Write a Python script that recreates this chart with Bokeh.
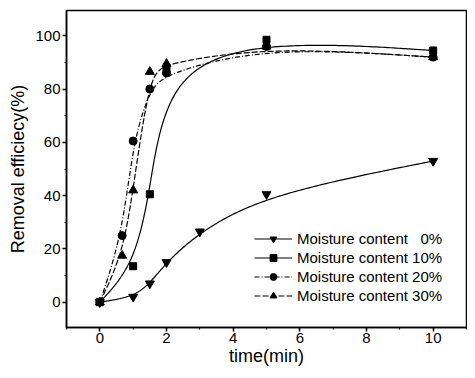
import numpy as np
from bokeh.plotting import figure
from bokeh.models import Legend, LegendItem, FixedTicker, Range1d
from bokeh.embed import file_html
from bokeh.resources import INLINE

# ---- data ----
t_0 = [0, 1, 1.5, 2, 3, 5, 10]
r_0 = [0, 2, 7, 15, 26.5, 40.5, 53]

t_10 = [0, 1, 1.5, 2, 5, 10]
r_10 = [0, 13.5, 40.5, 87, 98.5, 94.5]

t_20 = [0, 0.67, 1, 1.5, 2, 5, 10]
r_20 = [0, 25, 60.5, 80, 86, 96, 92]

t_30 = [0, 0.67, 1, 1.5, 2, 5, 10]
r_30 = [0, 17.5, 42, 86.5, 89.5, 96, 92]

labels = ["Moisture content\u00a0\u00a0\u00a00%", "Moisture content 10%",
          "Moisture content 20%", "Moisture content 30%"]
x_ticks = [0, 2, 4, 6, 8, 10]
y_ticks = [0, 20, 40, 60, 80, 100]
x_title = "time(min)"
y_title = "Removal efficiecy(%)"


def bspline(xs, ys, n=40):
    """Clamped uniform cubic B-spline using the data points as control points."""
    P = np.column_stack([xs, ys]).astype(float)
    P = np.vstack([P[0], P[0], P, P[-1], P[-1]])
    t = np.linspace(0, 1, n)
    b0 = (1 - t) ** 3 / 6
    b1 = (3 * t ** 3 - 6 * t ** 2 + 4) / 6
    b2 = (-3 * t ** 3 + 3 * t ** 2 + 3 * t + 1) / 6
    b3 = t ** 3 / 6
    out = []
    for i in range(len(P) - 3):
        seg = (np.outer(b0, P[i]) + np.outer(b1, P[i + 1]) +
               np.outer(b2, P[i + 2]) + np.outer(b3, P[i + 3]))
        out.append(seg)
    c = np.vstack(out)
    return c[:, 0], c[:, 1]


FONT = "Liberation Sans"

p = figure(width=467, height=368, output_backend="svg", toolbar_location=None,
           x_range=Range1d(-1, 11), y_range=Range1d(-9.5, 109.5),
           min_border_left=66, min_border_right=1, min_border_top=10,
           min_border_bottom=40)
p.xgrid.visible = False
p.ygrid.visible = False
p.outline_line_color = "black"
p.outline_line_width = 1.5
p.background_fill_color = "white"
p.border_fill_color = "white"

for ax in (p.xaxis[0], p.yaxis[0]):
    ax.axis_line_width = 1.5
    ax.major_tick_line_width = 1.5
    ax.minor_tick_line_width = 1.2
    ax.major_tick_in = 0
    ax.major_tick_out = 4
    ax.minor_tick_in = 0
    ax.minor_tick_out = 2
    ax.major_label_text_font = FONT
    ax.major_label_text_font_size = "15px"
    ax.major_label_text_color = "black"
    ax.axis_label_text_font = FONT
    ax.axis_label_text_font_size = "18px"
    ax.axis_label_text_font_style = "normal"
    ax.axis_label_text_color = "black"

p.xaxis[0].ticker = FixedTicker(ticks=x_ticks, minor_ticks=list(range(-1, 12)))
p.yaxis[0].ticker = FixedTicker(ticks=y_ticks, minor_ticks=list(range(-10, 111, 10)))
p.xaxis[0].axis_label = x_title
p.yaxis[0].axis_label = y_title
p.xaxis[0].major_label_standoff = 1
p.xaxis[0].axis_label_standoff = 0
p.yaxis[0].major_label_standoff = 2
p.yaxis[0].axis_label_standoff = 4

series = [
    (t_0, r_0, "inverted_triangle", 9, "solid"),
    (t_10, r_10, "square", 7, "solid"),
    (t_20, r_20, "circle", 8, "5 2 1 2"),
    (t_30, r_30, "triangle", 9, "6 2"),
]

items = []
for (xs, ys, mk, sz, dash), lab in zip(series, labels):
    cx, cy = bspline(xs, ys)
    ln = p.line(cx, cy, line_color="black", line_width=1.2, line_dash=dash)
    sc = p.scatter(xs, ys, marker=mk, size=sz, fill_color="black",
                   line_color="black")
    items.append(LegendItem(label=lab, renderers=[ln, sc]))

legend = Legend(items=items, location=(188, 23), border_line_color=None,
                background_fill_alpha=0, label_text_font=FONT,
                label_text_font_size="15px", label_text_color="black",
                glyph_width=38, glyph_height=17, label_height=17,
                label_standoff=5, spacing=2, padding=0, margin=0)
p.add_layout(legend, "center")

open("out.html", "w").write(file_html(p, INLINE))
